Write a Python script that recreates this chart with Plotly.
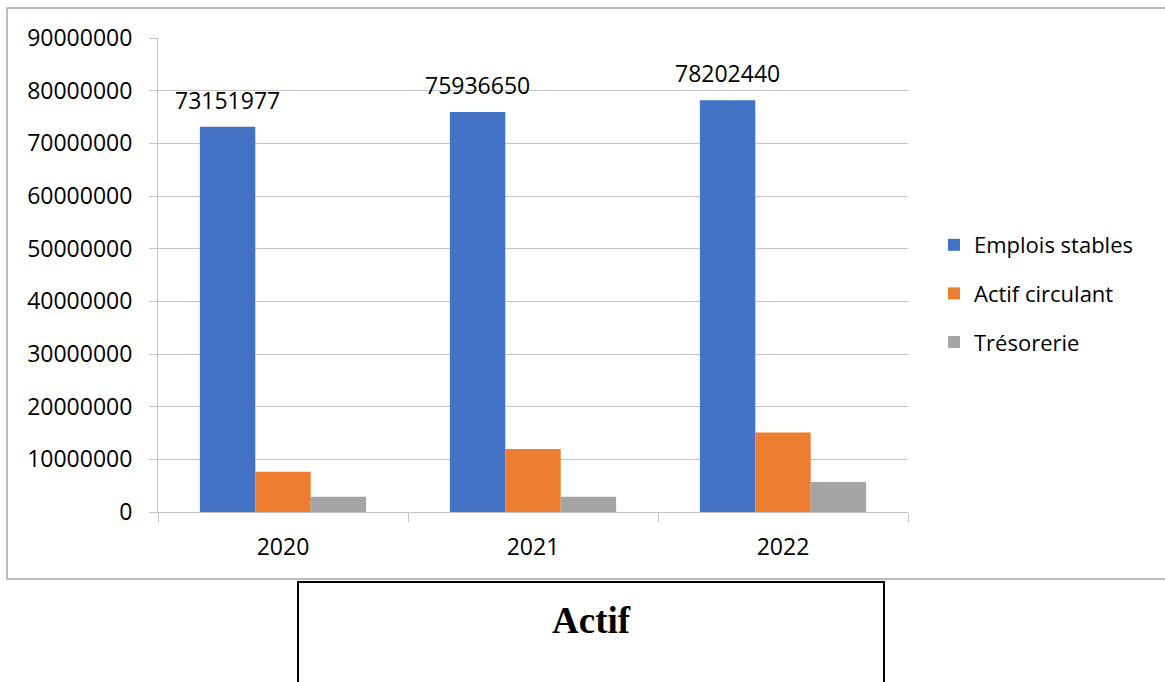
import plotly.graph_objects as go

years = ["2020", "2021", "2022"]
emplois_stables = [73151977, 75936650, 78202440]
actif_circulant = [7650000, 11950000, 15100000]
tresorerie = [2900000, 2900000, 5700000]
y_ticks = [0, 10000000, 20000000, 30000000, 40000000, 50000000,
           60000000, 70000000, 80000000, 90000000]

W, H = 1165, 682
FONT = "Open Sans"
GRID = "#c4c4c4"
BARGAP = 0.335
N_SERIES = 3


def px_x(x):
    return x / W


def px_y(y):
    return (H - y) / H


fig = go.Figure()
fig.add_trace(go.Bar(
    x=years, y=emplois_stables, name="Emplois stables", legendgroup="a",
    marker=dict(color="#4472C4", line=dict(width=0)),
))
fig.add_trace(go.Bar(
    x=years, y=actif_circulant, name="Actif circulant", legendgroup="b",
    marker=dict(color="#ED7D31", line=dict(width=0)),
))
fig.add_trace(go.Bar(
    x=years, y=tresorerie, name="Trésorerie", legendgroup="c",
    marker=dict(color="#A5A5A5", line=dict(width=0)),
))

# value labels above the first series, centred on its bars
bar_w = (1 - BARGAP) / N_SERIES
first_offset = -bar_w
value_labels = [
    dict(text=str(v), xref="x", yref="y", x=i + first_offset, y=v,
         xanchor="center", yanchor="middle", yshift=27, showarrow=False,
         font=dict(family=FONT, size=23, color="#000000"))
    for i, v in enumerate(emplois_stables)
]

fig.update_layout(
    width=W, height=H,
    margin=dict(l=0, r=0, t=0, b=0, autoexpand=False),
    paper_bgcolor="white", plot_bgcolor="white",
    barmode="group", bargap=BARGAP, bargroupgap=0,
    font=dict(family=FONT, size=23, color="#000000"),
    showlegend=True,
    legend=dict(
        x=px_x(934), y=px_y(224), xanchor="left", yanchor="top",
        font=dict(family=FONT, size=22, color="#000000"),
        itemsizing="constant", tracegroupgap=17, itemwidth=30,
        bgcolor="rgba(0,0,0,0)",
    ),
    xaxis=dict(
        domain=[px_x(158), px_x(908)],
        showgrid=False, showline=True, linecolor=GRID, linewidth=1,
        ticks="outside", tickson="boundaries", ticklen=9, tickcolor=GRID,
        tickfont=dict(family=FONT, size=23, color="#000000"),
        zeroline=False, ticklabelstandoff=14,
    ),
    yaxis=dict(
        domain=[px_y(512), px_y(38)],
        range=[0, 90000000], tickvals=y_ticks,
        ticktext=[str(v) for v in y_ticks],
        showgrid=True, gridcolor=GRID, gridwidth=1,
        showline=True, linecolor=GRID, linewidth=1,
        ticks="outside", ticklen=8, tickcolor=GRID,
        tickfont=dict(family=FONT, size=23, color="#000000"),
        zeroline=False, ticklabelstandoff=12,
    ),
    shapes=[
        dict(type="rect", xref="paper", yref="paper",
             x0=px_x(7), x1=1.01, y0=px_y(579), y1=px_y(8),
             line=dict(color="#a6a6a6", width=1.5), fillcolor="rgba(0,0,0,0)"),
        dict(type="rect", xref="paper", yref="paper",
             x0=px_x(298), x1=px_x(884), y0=-0.02, y1=px_y(582),
             line=dict(color="#000000", width=2), fillcolor="rgba(0,0,0,0)"),
    ],
    annotations=value_labels + [
        dict(text="<b>Actif</b>", xref="paper", yref="paper",
             x=px_x(591), y=px_y(620), xanchor="center", yanchor="middle",
             showarrow=False,
             font=dict(family="Liberation Serif", size=37, color="#000000")),
    ],
)

fig.write_html("out.html")
